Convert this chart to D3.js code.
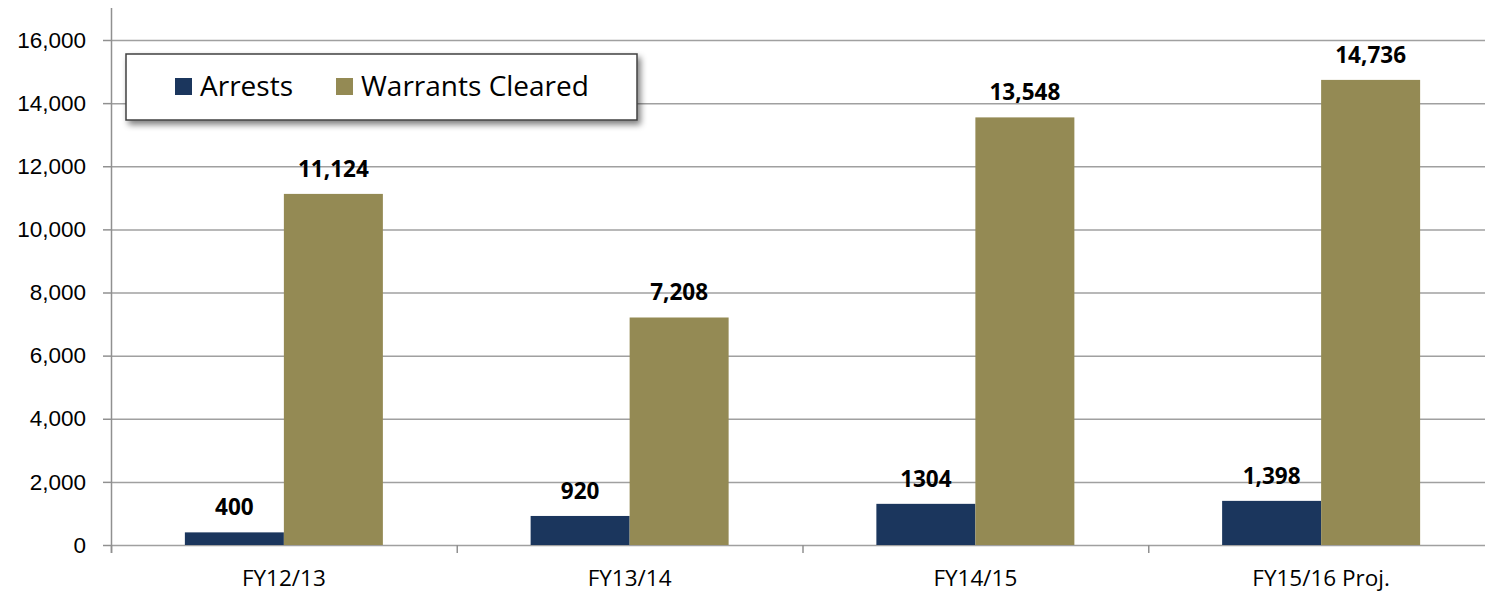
<!DOCTYPE html>
<html>
<head>
<meta charset="utf-8">
<script src="https://cdn.jsdelivr.net/npm/d3@7"></script>
<style>
  body { margin: 0; background: #fff; }
  svg { display: block; font-family: "Open Sans", "Noto Sans", sans-serif; }
</style>
</head>
<body>
<div id="chart"></div>
<script>
var categories = ["FY12/13", "FY13/14", "FY14/15", "FY15/16 Proj."];
var arrests = [400, 920, 1304, 1398];
var warrants = [11124, 7208, 13548, 14736];
var arrestLabels = ["400", "920", "1304", "1,398"];
var warrantLabels = ["11,124", "7,208", "13,548", "14,736"];
var seriesNames = ["Arrests", "Warrants Cleared"];
var yTicks = [0, 2000, 4000, 6000, 8000, 10000, 12000, 14000, 16000];

var colors = ["#1b365d", "#948a54"];

var width = 1485, height = 594;
var margin = { top: 40, right: -9, bottom: 49, left: 111 };
var innerW = width - margin.left - margin.right,
    innerH = height - margin.top - margin.bottom;

var svg = d3.select("#chart").append("svg")
    .attr("width", width)
    .attr("height", height);

var defs = svg.append("defs");
var shadow = defs.append("filter").attr("id", "shadow")
    .attr("x", "-5%").attr("y", "-10%").attr("width", "115%").attr("height", "140%");
shadow.append("feGaussianBlur").attr("in", "SourceAlpha").attr("stdDeviation", 3);
shadow.append("feOffset").attr("dx", 3).attr("dy", 4).attr("result", "off");
shadow.append("feComponentTransfer").append("feFuncA").attr("type", "linear").attr("slope", 0.5);
var merge = shadow.append("feMerge");
merge.append("feMergeNode");
merge.append("feMergeNode").attr("in", "SourceGraphic");

var g = svg.append("g")
    .attr("transform", "translate(" + margin.left + "," + margin.top + ")");

var y = d3.scaleLinear().domain([0, 16000]).range([innerH, 0]);
var x = d3.scaleBand().domain(categories).range([0, innerW]).paddingInner(0).paddingOuter(0);
var barW = 99;
var groupW = barW * 2;

// gridlines
g.selectAll(".grid").data(yTicks).enter().append("line")
    .attr("x1", 0).attr("x2", innerW)
    .attr("y1", function (d) { return y(d) + 0.5; })
    .attr("y2", function (d) { return y(d) + 0.5; })
    .attr("stroke", "#a0a0a0").attr("stroke-width", 1.5);

// y axis
var yAxis = g.append("g")
    .call(d3.axisLeft(y).tickValues(yTicks).tickFormat(d3.format(",")).tickSize(8).tickPadding(17));
yAxis.select(".domain").remove();
yAxis.selectAll(".tick line").attr("stroke", "#909090").attr("stroke-width", 1.5);
yAxis.selectAll("text").attr("font-size", 22.5).attr("fill", "#000");
g.append("line")
    .attr("x1", 0.5).attr("x2", 0.5).attr("y1", -32).attr("y2", innerH + 8)
    .attr("stroke", "#909090").attr("stroke-width", 1.5);

// x axis ticks
var bounds = categories.map(function (c) { return x(c); }).concat([innerW]);
g.selectAll(".xtick").data(bounds).enter().append("line")
    .attr("x1", function (d) { return d + 0.5; }).attr("x2", function (d) { return d + 0.5; })
    .attr("y1", innerH).attr("y2", innerH + 8)
    .attr("stroke", "#909090").attr("stroke-width", 1.5);
g.selectAll(".xlabel").data(categories).enter().append("text")
    .attr("x", function (d) { return x(d) + x.bandwidth() / 2; })
    .attr("y", innerH + 41)
    .attr("text-anchor", "middle")
    .attr("font-size", 22.5)
    .text(function (d) { return d; });

// bars
var series = [arrests, warrants];
var labels = [arrestLabels, warrantLabels];
series.forEach(function (vals, si) {
    g.selectAll(".bar" + si).data(categories).enter().append("rect")
        .attr("x", function (d) { return x(d) + (x.bandwidth() - groupW) / 2 + si * barW; })
        .attr("y", function (d, i) { return y(vals[i]); })
        .attr("width", barW)
        .attr("height", function (d, i) { return innerH - y(vals[i]); })
        .attr("fill", colors[si]);
    g.selectAll(".lab" + si).data(categories).enter().append("text")
        .attr("x", function (d) { return x(d) + (x.bandwidth() - groupW) / 2 + si * barW + barW / 2; })
        .attr("y", function (d, i) { return y(vals[i]) - 17; })
        .attr("text-anchor", "middle")
        .attr("font-size", 22.5)
        .attr("font-weight", "bold")
        .text(function (d, i) { return labels[si][i]; });
});

// legend
var leg = svg.append("g").attr("transform", "translate(126,54)");
leg.append("rect")
    .attr("width", 511).attr("height", 66)
    .attr("fill", "#fff").attr("stroke", "#404040").attr("stroke-width", 1.5)
    .attr("filter", "url(#shadow)");
var legX = [49, 210];
seriesNames.forEach(function (name, i) {
    leg.append("rect")
        .attr("x", legX[i]).attr("y", 24).attr("width", 17).attr("height", 17)
        .attr("fill", colors[i]);
    leg.append("text")
        .attr("x", legX[i] + 25).attr("y", 42)
        .attr("font-size", 28)
        .text(name);
});
</script>
</body>
</html>
